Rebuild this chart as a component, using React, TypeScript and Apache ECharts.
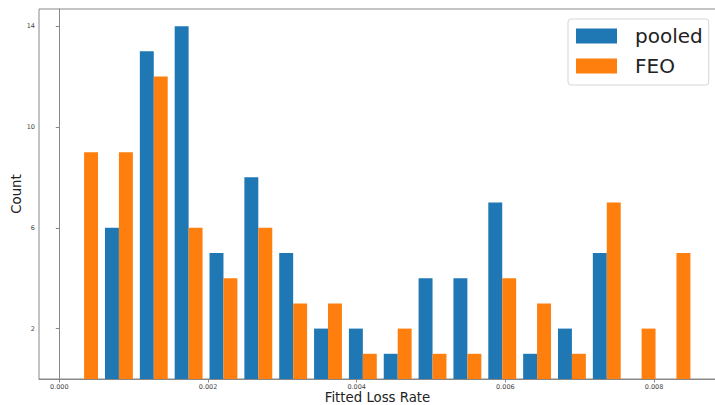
import React, { useEffect, useRef } from "react";
import * as echarts from "echarts";

const binStart = 0.000099;
const binWidth = 0.0004687;
const pooledCounts = [0, 6, 13, 14, 5, 8, 5, 2, 2, 1, 4, 4, 7, 1, 2, 5, 0, 0];
const feoCounts = [9, 9, 12, 6, 4, 6, 3, 3, 1, 2, 1, 1, 4, 3, 1, 7, 2, 5];
const xTicks = [0, 0.002, 0.004, 0.006, 0.008];
const yTicks = [2, 6, 10, 14];
const seriesNames = ["pooled", "FEO"];
const seriesColors = ["#1f77b4", "#ff7f0e"];

function buildData(counts: number[], offset: number) {
  return counts.map((c, i) => {
    const edge = binStart + i * binWidth;
    return [edge + (0.1 + offset) * binWidth, edge + (0.5 + offset) * binWidth, c];
  });
}

const renderBar = (params: any, api: any) => {
  const p0 = api.coord([api.value(0), api.value(2)]);
  const p1 = api.coord([api.value(1), 0]);
  return {
    type: "rect",
    shape: { x: p0[0], y: p0[1], width: p1[0] - p0[0], height: p1[1] - p0[1] },
    style: { fill: api.visual("color") },
  };
};

export default function App() {
  const ref = useRef<HTMLDivElement>(null);
  useEffect(() => {
    if (!ref.current) return;
    const chart = echarts.init(ref.current, undefined, { renderer: "svg" });
    const font = "DejaVu Sans";
    chart.setOption({
      animation: false,
      backgroundColor: "#ffffff",
      textStyle: { fontFamily: font },
      grid: {
        left: 39,
        right: -1,
        top: 9,
        bottom: 26,
        outerBoundsMode: "none",
        containLabel: false,
        show: true,
        borderColor: "#888",
        borderWidth: 1,
        backgroundColor: "transparent",
      },
      legend: {
        left: 568,
        top: 19,
        orient: "vertical",
        itemWidth: 41,
        itemHeight: 15,
        itemGap: 10,
        padding: [7, 6, 9, 8],
        borderColor: "#d5d5d5",
        borderWidth: 1,
        borderRadius: 3,
        icon: "rect",
        data: seriesNames,
        textStyle: { fontSize: 20, fontFamily: font, color: "#222", padding: [0, 0, 0, 13] },
      },
      xAxis: {
        type: "value",
        min: -0.000273,
        max: 0.008833,
        name: "Fitted Loss Rate",
        nameLocation: "middle",
        nameGap: 12,
        nameMoveOverlap: false,
        nameTextStyle: { fontSize: 13.3, color: "#222", fontFamily: font },
        axisLine: { show: true, onZero: false, lineStyle: { color: "#888" } },
        axisTick: { show: true, length: 3.5, customValues: xTicks, lineStyle: { color: "#888" } },
        axisLabel: {
          customValues: xTicks,
          fontSize: 6.5,
          color: "#444",
          margin: 4,
          formatter: (v: number) => v.toFixed(3),
        },
        splitLine: { show: false },
      },
      yAxis: {
        type: "value",
        min: 0,
        max: 14.68,
        name: "Count",
        nameLocation: "middle",
        nameGap: 16,
        nameMoveOverlap: false,
        nameTextStyle: { fontSize: 13.3, color: "#222", fontFamily: font },
        axisLine: { show: true, lineStyle: { color: "#888" } },
        axisTick: { show: true, length: 3.5, customValues: yTicks, lineStyle: { color: "#888" } },
        axisLabel: { customValues: yTicks, fontSize: 6.5, color: "#444", margin: 4 },
        splitLine: { show: false },
      },
      series: [
        {
          name: seriesNames[0],
          type: "custom",
          renderItem: renderBar,
          itemStyle: { color: seriesColors[0] },
          encode: { x: [0, 1], y: 2 },
          data: buildData(pooledCounts, 0),
        },
        {
          name: seriesNames[1],
          type: "custom",
          renderItem: renderBar,
          itemStyle: { color: seriesColors[1] },
          encode: { x: [0, 1], y: 2 },
          data: buildData(feoCounts, 0.4),
        },
      ],
    });
    return () => chart.dispose();
  }, []);
  return (
    <div
      ref={ref}
      style={{ position: "absolute", left: 0, top: 0, width: 715, height: 405 }}
    />
  );
}
